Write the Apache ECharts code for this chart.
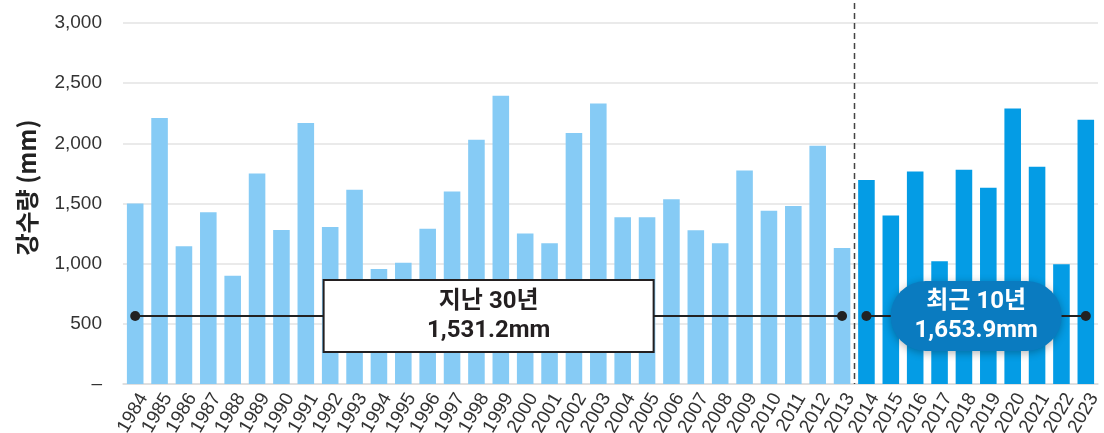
<!DOCTYPE html>
<html><head><meta charset="utf-8">
<script src="https://cdn.jsdelivr.net/npm/echarts@6/dist/echarts.min.js"></script>
<style>html,body{margin:0;padding:0;background:#fff}#c{width:1104px;height:433px}</style>
</head><body><div id="c"></div>
<script>
const years = ['1984','1985','1986','1987','1988','1989','1990','1991','1992','1993','1994','1995','1996','1997','1998','1999','2000','2001','2002','2003','2004','2005','2006','2007','2008','2009','2010','2011','2012','2013','2014','2015','2016','2017','2018','2019','2020','2021','2022','2023'];
const pastValues = [1500,2210,1145,1427,900,1750,1280,2170,1305,1615,955,1008,1290,1600,2030,2395,1250,1170,2085,2330,1385,1385,1535,1278,1170,1775,1440,1480,1980,1130];
const recentValues = [1695,1400,1765,1020,1780,1630,2290,1805,995,2195];
const yTicks = [0,500,1000,1500,2000,2500,3000];
const pastLabel = '지난 30년\n1,531.2mm';
const recentLabel = '최근 10년\n1,653.9mm';
const guideY = 565;

const nPast = pastValues.length;
const pastData = pastValues.concat(recentValues.map(() => null));
const recentData = pastValues.map(() => null).concat(recentValues);
const FONT = 'Roboto, "Noto Sans CJK KR", sans-serif';
const NUMFONT = '"Liberation Sans", Arial, sans-serif';

const chart = echarts.init(document.getElementById('c'));
chart.setOption({
  animation: false,
  grid: {left: 123, right: 6, top: 23, bottom: 49, outerBoundsMode: 'none', containLabel: false},
  xAxis: {
    type: 'category', data: years,
    axisLine: {lineStyle: {color: '#dcdcdc', width: 1.5}},
    axisTick: {show: false},
    axisLabel: {interval: 0, rotate: 60, fontSize: 19, color: '#333', margin: 6, verticalAlign: 'top', fontFamily: NUMFONT}
  },
  yAxis: {
    type: 'value', min: yTicks[0], max: yTicks[yTicks.length-1], interval: 500,
    name: '강수량 (mm)', nameLocation: 'middle', nameGap: 84, nameRotate: 90,
    nameTextStyle: {fontSize: 24, fontWeight: 'bold', color: '#222', fontFamily: '"Noto Sans CJK KR", sans-serif', padding: [0,0,0,32]},
    axisLine: {show: false}, axisTick: {show: false},
    splitLine: {lineStyle: {color: '#e3e3e3', width: 1.5}},
    axisLabel: {fontSize: 19, color: '#333', margin: 21, fontFamily: NUMFONT,
      formatter: v => v === 0 ? '–' : v.toLocaleString('en-US')}
  },
  series: [
    {
      type: 'bar', stack: 'all', data: pastData, barCategoryGap: '32%',
      itemStyle: {color: '#86CBF5'},
      markLine: {
        silent: true, symbol: ['circle','circle'], symbolSize: 10,
        lineStyle: {color: '#222', width: 2, type: 'solid'},
        label: {
          show: true, position: 'insideMiddle', formatter: pastLabel,
          fontFamily: FONT, fontWeight: 'bold', fontSize: 24, lineHeight: 29, color: '#231f20',
          backgroundColor: '#fff', borderColor: '#231f20', borderWidth: 2,
          padding: [6, 0], width: 328, align: 'center'
        },
        data: [[{coord: [years[0], guideY]}, {coord: [years[nPast-1], guideY]}]]
      }
    },
    {
      type: 'bar', stack: 'all', data: recentData,
      itemStyle: {color: '#049CE5'},
      markLine: {
        silent: true, symbol: ['circle','circle'], symbolSize: 10,
        lineStyle: {color: '#222', width: 2, type: 'solid'},
        label: {
          show: true, position: 'insideMiddle', formatter: recentLabel,
          fontFamily: FONT, fontWeight: 'bold', fontSize: 24, lineHeight: 29, color: '#fff',
          backgroundColor: '#0A7BC0', borderRadius: 36,
          shadowColor: 'rgba(0,0,0,0.3)', shadowBlur: 8, shadowOffsetY: 2,
          padding: [6, 0], width: 171, align: 'center'
        },
        data: [[{coord: [years[nPast], guideY]}, {coord: [years[years.length-1], guideY]}]]
      }
    }
  ]
});

const xa = chart.convertToPixel({xAxisIndex: 0}, years[nPast-1]);
const xb = chart.convertToPixel({xAxisIndex: 0}, years[nPast]);
const yBottom = chart.convertToPixel({yAxisIndex: 0}, 0);
const xm = Math.round((xa + xb) / 2) + 0.5;
chart.setOption({
  graphic: [{
    type: 'line', silent: true, z: 10,
    shape: {x1: xm, y1: 3, x2: xm, y2: yBottom},
    style: {stroke: '#444', lineWidth: 1.5, lineDash: [6, 4]}
  }]
});
</script></body></html>
